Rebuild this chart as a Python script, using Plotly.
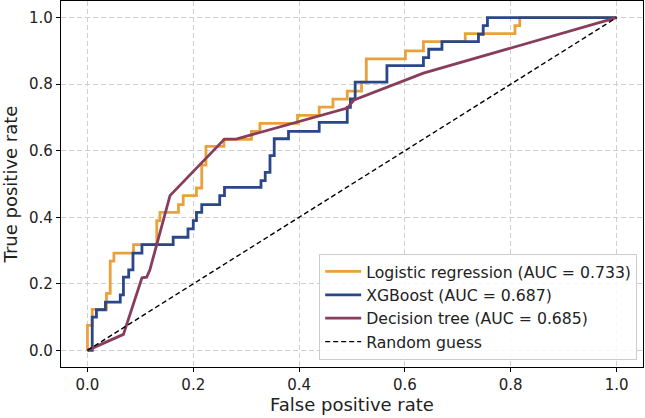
import plotly.graph_objects as go

# Logistic regression ROC (fpr, tpr) step corners
lr_fpr = [0, 0, 0.009, 0.036, 0.043, 0.05, 0.087, 0.131, 0.137, 0.172, 0.181, 0.206, 0.216, 0.224,
          0.258, 0.31, 0.326, 0.397, 0.438, 0.464, 0.491, 0.518, 0.527, 0.601, 0.635, 0.714, 0.808, 0.817, 1.0]
lr_tpr = [0, 0.075, 0.123, 0.171, 0.268, 0.292, 0.318, 0.39, 0.415, 0.438, 0.465, 0.488, 0.557, 0.613,
          0.634, 0.658, 0.682, 0.706, 0.731, 0.755, 0.779, 0.806, 0.876, 0.9, 0.928, 0.952, 0.976, 1.0, 1.0]

# XGBoost ROC
xgb_fpr = [0, 0.009, 0.017, 0.034, 0.062, 0.068, 0.078, 0.086, 0.103, 0.162, 0.19, 0.2, 0.206, 0.216,
           0.25, 0.259, 0.328, 0.336, 0.345, 0.353, 0.38, 0.438, 0.491, 0.497, 0.506, 0.566, 0.635,
           0.645, 0.67, 0.739, 0.748, 0.756, 1.0]
xgb_tpr = [0, 0.1, 0.122, 0.145, 0.167, 0.22, 0.242, 0.292, 0.318, 0.34, 0.365, 0.39, 0.415, 0.438,
           0.465, 0.49, 0.51, 0.535, 0.585, 0.636, 0.658, 0.685, 0.73, 0.756, 0.806, 0.856, 0.88,
           0.905, 0.928, 0.95, 0.976, 1.0, 1.0]

# Decision tree ROC
dt_fpr = [0, 0.068, 0.103, 0.112, 0.118, 0.156, 0.259, 0.281, 0.491, 0.504, 0.635, 1.0]
dt_tpr = [0, 0.048, 0.218, 0.22, 0.242, 0.465, 0.635, 0.635, 0.728, 0.753, 0.833, 1.0]

rand_x = [0, 1]
rand_y = [0, 1]

names = ["Logistic regression (AUC = 0.733)", "XGBoost (AUC = 0.687)",
         "Decision tree (AUC = 0.685)", "Random guess"]
colors = ["#E9A23B", "#2A4789", "#883D5C", "#000000"]

FONT = "DejaVu Sans"

fig = go.Figure()
fig.add_trace(go.Scatter(x=lr_fpr, y=lr_tpr, mode="lines", line=dict(color=colors[0], width=2.8, shape="hv"), name=names[0]))
fig.add_trace(go.Scatter(x=xgb_fpr, y=xgb_tpr, mode="lines", line=dict(color=colors[1], width=2.8, shape="hv"), name=names[1]))
fig.add_trace(go.Scatter(x=dt_fpr, y=dt_tpr, mode="lines", line=dict(color=colors[2], width=2.8), name=names[2]))
fig.add_trace(go.Scatter(x=rand_x, y=rand_y, mode="lines", line=dict(color=colors[3], width=1.4, dash="5px,3px"), name=names[3]))

axis_common = dict(
    showline=True, linecolor="black", linewidth=1.2, mirror=True,
    ticks="outside", ticklen=4, tickcolor="black", tickwidth=1,
    showgrid=True, gridcolor="#cfcfcf", gridwidth=1, griddash="5px,3px",
    zeroline=False, tickfont=dict(family=FONT, size=15, color="#222"),
    tickvals=[0, 0.2, 0.4, 0.6, 0.8, 1.0], ticktext=["0.0", "0.2", "0.4", "0.6", "0.8", "1.0"],
)

fig.update_xaxes(range=[-0.05, 1.05], title=dict(text="False positive rate", font=dict(family=FONT, size=18, color="#222"), standoff=4), **axis_common)
fig.update_yaxes(range=[-0.05, 1.05], title=dict(text="True positive rate", font=dict(family=FONT, size=18, color="#222"), standoff=6), **axis_common)

fig.update_layout(
    width=645, height=418,
    margin=dict(l=61, r=2, t=1, b=51),
    plot_bgcolor="white", paper_bgcolor="white",
    font=dict(family=FONT, color="#222"),
    legend=dict(x=0.99, y=0.02, xanchor="right", yanchor="bottom",
                bgcolor="rgba(255,255,255,0.85)", bordercolor="#cccccc", borderwidth=1,
                itemwidth=36,
                font=dict(family=FONT, size=15.7, color="#222"), tracegroupgap=0),
    showlegend=True,
)

fig.write_html("out.html")
